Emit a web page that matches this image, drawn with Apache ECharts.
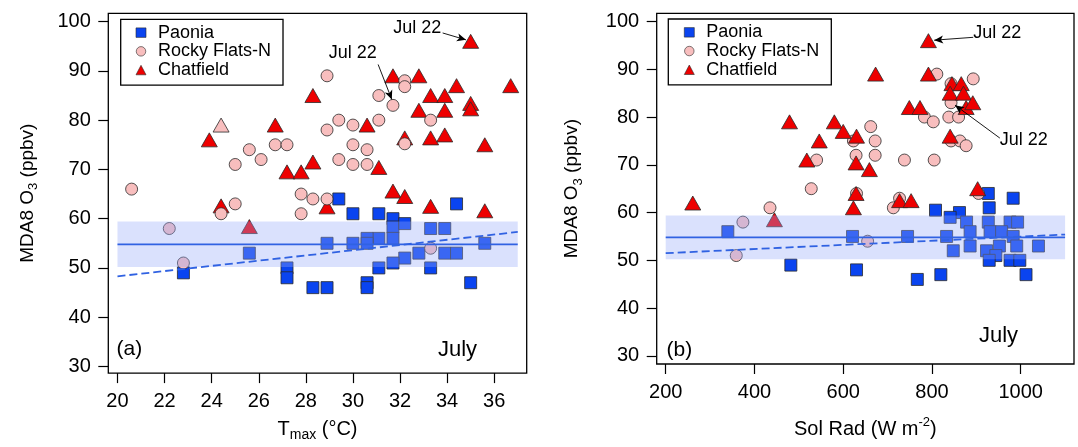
<!DOCTYPE html>
<html>
<head>
<meta charset="utf-8">
<script src="https://cdn.jsdelivr.net/npm/echarts@6/dist/echarts.min.js"></script>
<style>
  html, body { margin: 0; padding: 0; background: #fff; }
  #chart { width: 1078px; height: 447px; }
</style>
</head>
<body>
<div id="chart"></div>
<script>
// July MDA8 O3 at three sites against daily max temperature (a) and solar radiation (b)

// ---- panel (a): Tmax (°C) vs MDA8 O3 (ppbv) ----
const paoniaTmax = [
  [29.4, 64], [34.4, 63], [30.0, 61], [31.1, 61], [31.7, 60], [31.7, 58.3], [32.2, 59],
  [33.3, 58], [33.9, 58], [31.7, 56], [31.1, 56], [30.6, 56], [30.6, 55], [30.0, 55],
  [28.9, 55], [35.6, 55], [25.6, 53], [32.8, 53], [33.9, 53], [34.4, 53], [32.2, 52],
  [31.7, 51], [31.1, 50], [33.3, 50], [22.8, 49], [27.2, 50], [27.2, 48], [35.0, 47],
  [30.6, 47], [30.6, 46], [28.3, 46], [28.9, 46]
];
const rockyTmax = [
  [28.9, 89], [32.2, 88], [32.2, 86.8], [31.1, 85], [31.7, 83], [33.3, 80], [29.4, 80],
  [30.0, 79], [31.1, 80], [28.9, 78], [25.6, 74], [26.7, 75], [27.2, 75], [30.0, 75],
  [30.6, 74], [32.2, 75.2], [26.1, 72], [25.0, 71], [29.4, 72], [30.0, 71], [30.6, 71],
  [20.6, 66], [27.8, 65], [28.3, 64], [28.9, 64], [25.0, 63], [24.4, 61], [27.8, 61],
  [22.2, 58], [22.8, 51], [33.3, 54]
];
const chatTmax = [
  [35.0, 96], [36.7, 87], [31.7, 89], [32.8, 89], [34.4, 87], [33.3, 85], [33.9, 85],
  [28.3, 85], [32.8, 82], [33.9, 82], [35.0, 83.4], [35.0, 82.3], [26.7, 79], [30.6, 79],
  [23.9, 76], [32.2, 76.4], [33.3, 76.4], [33.9, 77], [35.6, 75], [28.3, 71.5], [27.2, 69.5],
  [27.8, 69.5], [31.1, 70.4], [31.7, 65.6], [32.2, 64.5], [33.3, 62.5], [35.6, 61.6],
  [28.9, 62.4], [24.4, 62.6], [25.6, 58.4]
];
const chatTmaxPale = [[24.4, 79]];

// ---- panel (b): Sol Rad (W m-2) vs MDA8 O3 (ppbv) ----
const paoniaSol = [
  [927, 64], [983, 63], [808, 60.5], [929, 61], [862, 60], [841, 59], [878, 58], [927, 58],
  [976, 58], [993, 58], [886, 56], [931, 56], [957, 56], [340, 56], [621, 55], [745, 55],
  [833, 55], [983, 55], [886, 53], [952, 53], [991, 53], [1040, 53], [848, 52], [923, 52],
  [944, 51], [929, 50], [976, 50], [998, 50], [482, 49], [630, 48], [820, 47], [1012, 47],
  [767, 46]
];
const rockySol = [
  [811, 89], [893, 88], [843, 87], [843, 83], [838, 80], [860, 80], [783, 80], [803, 79],
  [662, 78], [672, 75], [623, 75], [843, 75], [863, 75], [877, 74], [629, 72], [672, 72],
  [540, 71], [738, 71], [805, 71], [528, 65], [630, 64], [905, 64], [727, 63], [713, 61],
  [435, 61], [374, 58], [655, 54], [359, 51]
];
const chatSol = [
  [792, 96], [673, 89], [792, 89], [845, 87], [866, 87], [841, 85], [871, 85], [877, 82],
  [892, 83], [749, 82], [773, 82], [479, 79], [580, 79], [600, 77], [630, 76], [841, 76],
  [546, 75], [518, 71], [629, 70.4], [659, 69], [629, 64], [903, 65], [261, 62], [623, 61],
  [727, 62.5], [753, 62.5], [445, 58.5]
];

// Paonia mean and ±1σ band, and linear fits
const paoniaMean = 54.8;
const paoniaBand = [50.2, 59.4];
const bandRangeTmax = [20, 37];
const bandRangeSol = [200, 1100];
const fitTmax = [[20, 48.3], [37, 57.3]];
const fitSol = [[200, 51.5], [1100, 55.4]];

// tick labels
const oTicks = [30, 40, 50, 60, 70, 80, 90, 100];
const tmaxTicks = [20, 22, 24, 26, 28, 30, 32, 34, 36];
const solTicks = [200, 400, 600, 800, 1000];

// "Jul 22" annotations: [label position, arrow start, arrow tip]
const noteTmax = [
  [[32.73, 98.7], [33.81, 97.7], [34.80, 96.3]],
  [[29.99, 93.65], [31.07, 91.3], [31.65, 84.2]]
];
const noteSol = [
  [[947, 97.6], [893, 96.7], [805, 96.1]],
  [[1007, 75.1], [953, 75.6], [852, 82.5]]
];

const FONT = '"Liberation Sans", Arial, Helvetica, sans-serif';
const BLUE = '#0a44f0';
const PINK = '#f8bebe';
const RED = '#ee0000';
const LINE_BLUE = '#3062e2';
const EDGE = '#2a2a2a';

const chart = echarts.init(document.getElementById('chart'), null, { renderer: 'canvas' });

function yAxisDef(gridIndex, min, max, gap) {
  return {
    type: 'value', gridIndex, min, max,
    name: 'MDA8 O{sub|3} (ppbv)', nameLocation: 'middle', nameRotate: 90, nameGap: gap,
    nameTextStyle: {
      fontFamily: FONT, fontSize: 19, color: '#000', lineHeight: 26,
      rich: { sub: { fontFamily: FONT, fontSize: 13, color: '#000', verticalAlign: 'bottom' } }
    },
    axisLine: { show: false, onZero: false },
    axisTick: { show: true, inside: false, length: 10, customValues: oTicks, lineStyle: { color: '#000', width: 1.2 } },
    axisLabel: { customValues: oTicks, fontFamily: FONT, fontSize: 20, color: '#000', margin: 17.5,
      formatter: v => String(v) },
    splitLine: { show: false }
  };
}

function xAxisDef(gridIndex, min, max, ticks, name, gap, rich) {
  return {
    type: 'value', gridIndex, min, max,
    name, nameLocation: 'middle', nameGap: gap,
    nameTextStyle: { fontFamily: FONT, fontSize: 20, color: '#000', lineHeight: 26, rich },
    axisLine: { show: false, onZero: false },
    axisTick: { show: true, inside: false, length: 10, customValues: ticks, lineStyle: { color: '#000', width: 1.2 } },
    axisLabel: { customValues: ticks, fontFamily: FONT, fontSize: 20, color: '#000', margin: 18,
      formatter: v => String(v) },
    splitLine: { show: false }
  };
}

function scatter(name, idx, data, symbol, size, color, z) {
  return {
    type: 'scatter', name, xAxisIndex: idx, yAxisIndex: idx, data, symbol, symbolSize: size, z,
    itemStyle: { color, borderColor: EDGE, borderWidth: 0.8, opacity: 1 },
    emphasis: { disabled: true }, silent: true, animation: false
  };
}

function bandSeries(idx, xr) {
  return {
    type: 'custom', xAxisIndex: idx, yAxisIndex: idx, z: 5, silent: true, animation: false,
    data: [[xr[0], xr[1], paoniaBand[0], paoniaBand[1]]],
    encode: { x: [0, 1], y: [2, 3] },
    renderItem: (params, api) => {
      const p0 = api.coord([api.value(0), api.value(3)]);
      const p1 = api.coord([api.value(1), api.value(2)]);
      return {
        type: 'rect',
        shape: { x: p0[0], y: p0[1], width: p1[0] - p0[0], height: p1[1] - p0[1] },
        style: { fill: 'rgba(150,170,250,0.35)' }
      };
    }
  };
}

function lineSeries(idx, data, dashed) {
  return {
    type: 'line', xAxisIndex: idx, yAxisIndex: idx, data, z: 6, symbol: 'none', silent: true,
    animation: false,
    lineStyle: { color: LINE_BLUE, width: 1.8, type: dashed ? [8, 4] : 'solid' }
  };
}

function notesSeries(idx, notes) {
  return {
    type: 'scatter', xAxisIndex: idx, yAxisIndex: idx, data: [], z: 8, silent: true, animation: false,
    markLine: {
      silent: true, animation: false, symbol: ['none', 'arrow'], symbolSize: [6, 9],
      lineStyle: { color: '#000', width: 0.9, type: 'solid' }, label: { show: false },
      data: notes.map(n => [{ coord: n[1] }, { coord: n[2] }])
    },
    markPoint: {
      silent: true, animation: false, symbol: 'circle', symbolSize: 0,
      itemStyle: { color: 'transparent' },
      label: { show: true, position: 'inside', formatter: 'Jul 22', fontFamily: FONT, fontSize: 18, color: '#000' },
      data: notes.map(n => ({ coord: n[0] }))
    }
  };
}

function legendDef(left, top, padding) {
  return {
    data: [
      { name: 'Paonia', itemStyle: { borderWidth: 0.6 } },
      { name: 'Rocky Flats-N', itemStyle: { borderWidth: 0.6 } },
      { name: 'Chatfield', itemStyle: { borderWidth: 0.6 } }
    ],
    orient: 'vertical', left, top, padding,
    itemWidth: 10, itemHeight: 9.5, itemGap: 0,
    borderColor: '#000', borderWidth: 1.3, backgroundColor: '#fff',
    selectedMode: false,
    textStyle: { fontFamily: FONT, fontSize: 18, color: '#000', lineHeight: 18.7, padding: [0, 0, 0, 7] }
  };
}

const chatTmaxData = chatTmax.map(p => p).concat(
  chatTmaxPale.map(p => ({ value: p, itemStyle: { color: PINK } }))
);

const option = {
  backgroundColor: '#fff',
  animation: false,
  grid: [
    { left: 108.3, top: 13.3, width: 418.4, height: 363.4, show: true, borderColor: '#000', borderWidth: 1.3, backgroundColor: 'transparent' },
    { left: 656.7, top: 13.3, width: 417.3, height: 356.7, show: true, borderColor: '#000', borderWidth: 1.3, backgroundColor: 'transparent' }
  ],
  xAxis: [
    xAxisDef(0, 19.61, 37.38, tmaxTicks, 'T{sub|max} (°C)', 42,
      { sub: { fontFamily: FONT, fontSize: 14, color: '#000', verticalAlign: 'bottom' } }),
    xAxisDef(1, 179.7, 1120.1, solTicks, 'Sol Rad (W m{sup|-2})', 52,
      { sup: { fontFamily: FONT, fontSize: 13, color: '#000', verticalAlign: 'top' } })
  ],
  yAxis: [
    yAxisDef(0, 28.65, 101.69, 68),
    yAxisDef(1, 28.29, 101.73, 72)
  ],
  legend: [
    legendDef(120.7, 19.3, [4, 12, 5.7, 15]),
    legendDef(668.3, 19, [4, 12, 5.7, 15.7])
  ],
  series: [
    scatter('Paonia', 0, paoniaTmax, 'rect', 12, BLUE, 2),
    scatter('Chatfield', 0, chatTmaxData, 'triangle', [16, 14], RED, 3),
    scatter('Rocky Flats-N', 0, rockyTmax, 'circle', 12, PINK, 4),
    bandSeries(0, bandRangeTmax),
    lineSeries(0, [[bandRangeTmax[0], paoniaMean], [bandRangeTmax[1], paoniaMean]], false),
    lineSeries(0, fitTmax, true),
    notesSeries(0, noteTmax),

    scatter('Paonia', 1, paoniaSol, 'rect', 12, BLUE, 2),
    scatter('Rocky Flats-N', 1, rockySol, 'circle', 12, PINK, 3),
    scatter('Chatfield', 1, chatSol, 'triangle', [16, 14], RED, 4),
    bandSeries(1, bandRangeSol),
    lineSeries(1, [[bandRangeSol[0], paoniaMean], [bandRangeSol[1], paoniaMean]], false),
    lineSeries(1, fitSol, true),
    notesSeries(1, noteSol)
  ],
  graphic: [
    { type: 'text', left: 116.5, top: 339, style: { text: '(a)', font: '21px ' + FONT, fill: '#000' } },
    { type: 'text', left: 438, top: 339, style: { text: 'July', font: '22px ' + FONT, fill: '#000' } },
    { type: 'text', left: 666.5, top: 340, style: { text: '(b)', font: '21px ' + FONT, fill: '#000' } },
    { type: 'text', left: 979, top: 325, style: { text: 'July', font: '22px ' + FONT, fill: '#000' } }
  ]
};

chart.setOption(option);
</script>
</body>
</html>
